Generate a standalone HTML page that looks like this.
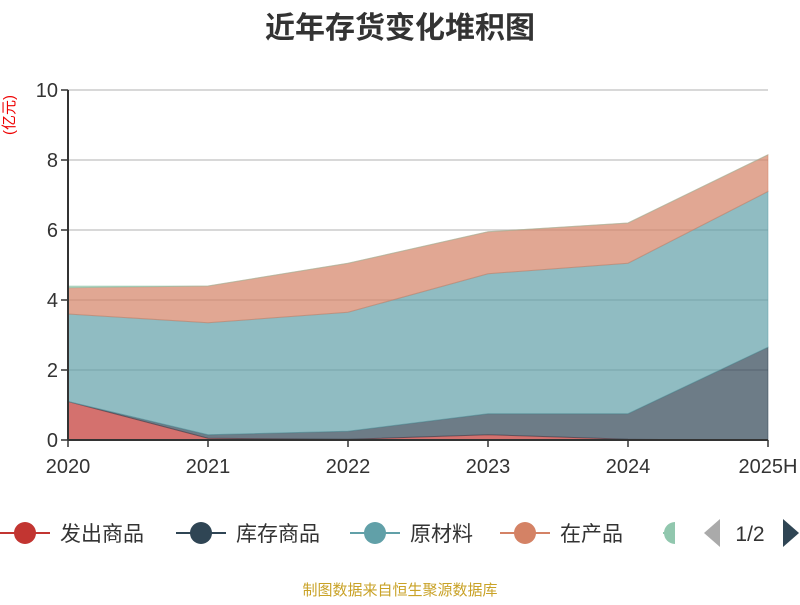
<!DOCTYPE html>
<html><head><meta charset="utf-8"><style>
body{margin:0;background:#fff;font-family:"Liberation Sans","Noto Sans CJK SC",sans-serif;}
svg text{font-family:"Liberation Sans","Noto Sans CJK SC",sans-serif;}
</style></head><body>
<svg id="chart" width="800" height="600">
<text x="400" y="38" text-anchor="middle" font-size="30" font-weight="bold" fill="#333">近年存货变化堆积图</text>
<text transform="translate(14,115) rotate(-90)" text-anchor="middle" font-size="15" fill="#e00">(亿元)</text>
<g id="grid"></g><g id="areas"></g><g id="axes"></g><g id="legend"></g>
<text x="400" y="595" text-anchor="middle" font-size="15" fill="#c9a227">制图数据来自恒生聚源数据库</text>
</svg>
<script>
const categories=["2020","2021","2022","2023","2024","2025H"];
const seriesNames=["发出商品","库存商品","原材料","在产品","其他"];
const faChuShangPin=[1.1,0.05,0.02,0.15,0.02,0];
const kuCunShangPin=[0,0.1,0.23,0.6,0.73,2.65];
const yuanCaiLiao=[2.5,3.2,3.4,4.0,4.3,4.45];
const zaiChanPin=[0.75,1.05,1.4,1.2,1.15,1.05];
const qiTa=[0.05,0,0,0,0,0];
const yTicks=[0,2,4,6,8,10];
const colors=["#c23531","#2f4554","#61a0a8","#d48265","#91c7ae"];
const NS="http://www.w3.org/2000/svg";
const x0=68,x1=768,y0=440,y1=90,ymax=10;
const xs=i=>x0+i*(x1-x0)/(categories.length-1);
const ys=v=>y0-v/ymax*(y0-y1);
function mk(t,a,p){const e=document.createElementNS(NS,t);for(const k in a)e.setAttribute(k,a[k]);p.appendChild(e);return e;}
const grid=document.getElementById('grid'),areas=document.getElementById('areas'),axes=document.getElementById('axes'),legend=document.getElementById('legend');
yTicks.forEach(t=>{
 if(t>0){const l=mk('line',{x1:x0,x2:x1,y1:ys(t),y2:ys(t),stroke:'#ccc','stroke-width':1.5},grid);
 
 }
 const tk=mk('line',{x1:x0-7,x2:x0,y1:ys(t),y2:ys(t),stroke:'#333','stroke-width':1.5},axes);
 
 
 const tx=mk('text',{x:x0-10,y:ys(t)+7,'text-anchor':'end','font-size':20,fill:'#333'},axes);tx.textContent=t;
 
 
});
const all=[faChuShangPin,kuCunShangPin,yuanCaiLiao,zaiChanPin,qiTa];
let base=categories.map(()=>0);
all.forEach((s,k)=>{
 const top=s.map((v,i)=>base[i]+v);
 let d='M'+top.map((v,i)=>xs(i)+','+ys(v)).join('L');
 for(let i=base.length-1;i>=0;i--)d+='L'+xs(i)+','+ys(base[i]);
 const p=mk('path',{d:d+'Z',fill:colors[k],'fill-opacity':0.7,stroke:colors[k],'stroke-opacity':0.5,'stroke-width':1},areas);
 
 
 base=top;
});
mk('line',{x1:x0,x2:x0,y1:y1,y2:y0,stroke:'#333','stroke-width':2},axes);
mk('line',{x1:x0,x2:x1,y1:y0,y2:y0,stroke:'#333','stroke-width':2},axes);
categories.forEach((c,i)=>{
 mk('line',{x1:xs(i),x2:xs(i),y1:y0,y2:y0+7,stroke:'#333','stroke-width':1.5},axes);
 const t=mk('text',{x:xs(i),y:473,'text-anchor':'middle','font-size':20,fill:'#333'},axes);t.textContent=c;
 
 
});
const lx=[0,176,350,500,650];
seriesNames.forEach((n,k)=>{
 const g=mk('g',{},legend);
 
 
 const x=lx[k];
 if(k<4){
  mk('line',{x1:x,x2:x+50,y1:533,y2:533,stroke:colors[k],'stroke-width':2},g);
  mk('circle',{cx:x+25,cy:533,r:11,fill:colors[k]},g);
  const t=mk('text',{x:x+60,y:541,'font-size':21,fill:'#333'},g);t.textContent=n;
 } else {
  mk('line',{x1:x+13,x2:x+25,y1:533,y2:533,stroke:colors[k],'stroke-width':2},g);
  mk('path',{d:`M${x+25},522 A11,11 0 0 0 ${x+25},544 Z`,fill:colors[k]},g);
 }
});
const pl=mk('path',{d:'M704,533 L720,519 L720,547Z',fill:'#aaa'},legend);


const pt=mk('text',{x:750,y:541,'text-anchor':'middle','font-size':21,fill:'#333'},legend);pt.textContent='1/2';


const pn=mk('path',{d:'M783,519 L799,533 L783,547Z',fill:'#2f4554'},legend);


</script>
</body></html>
